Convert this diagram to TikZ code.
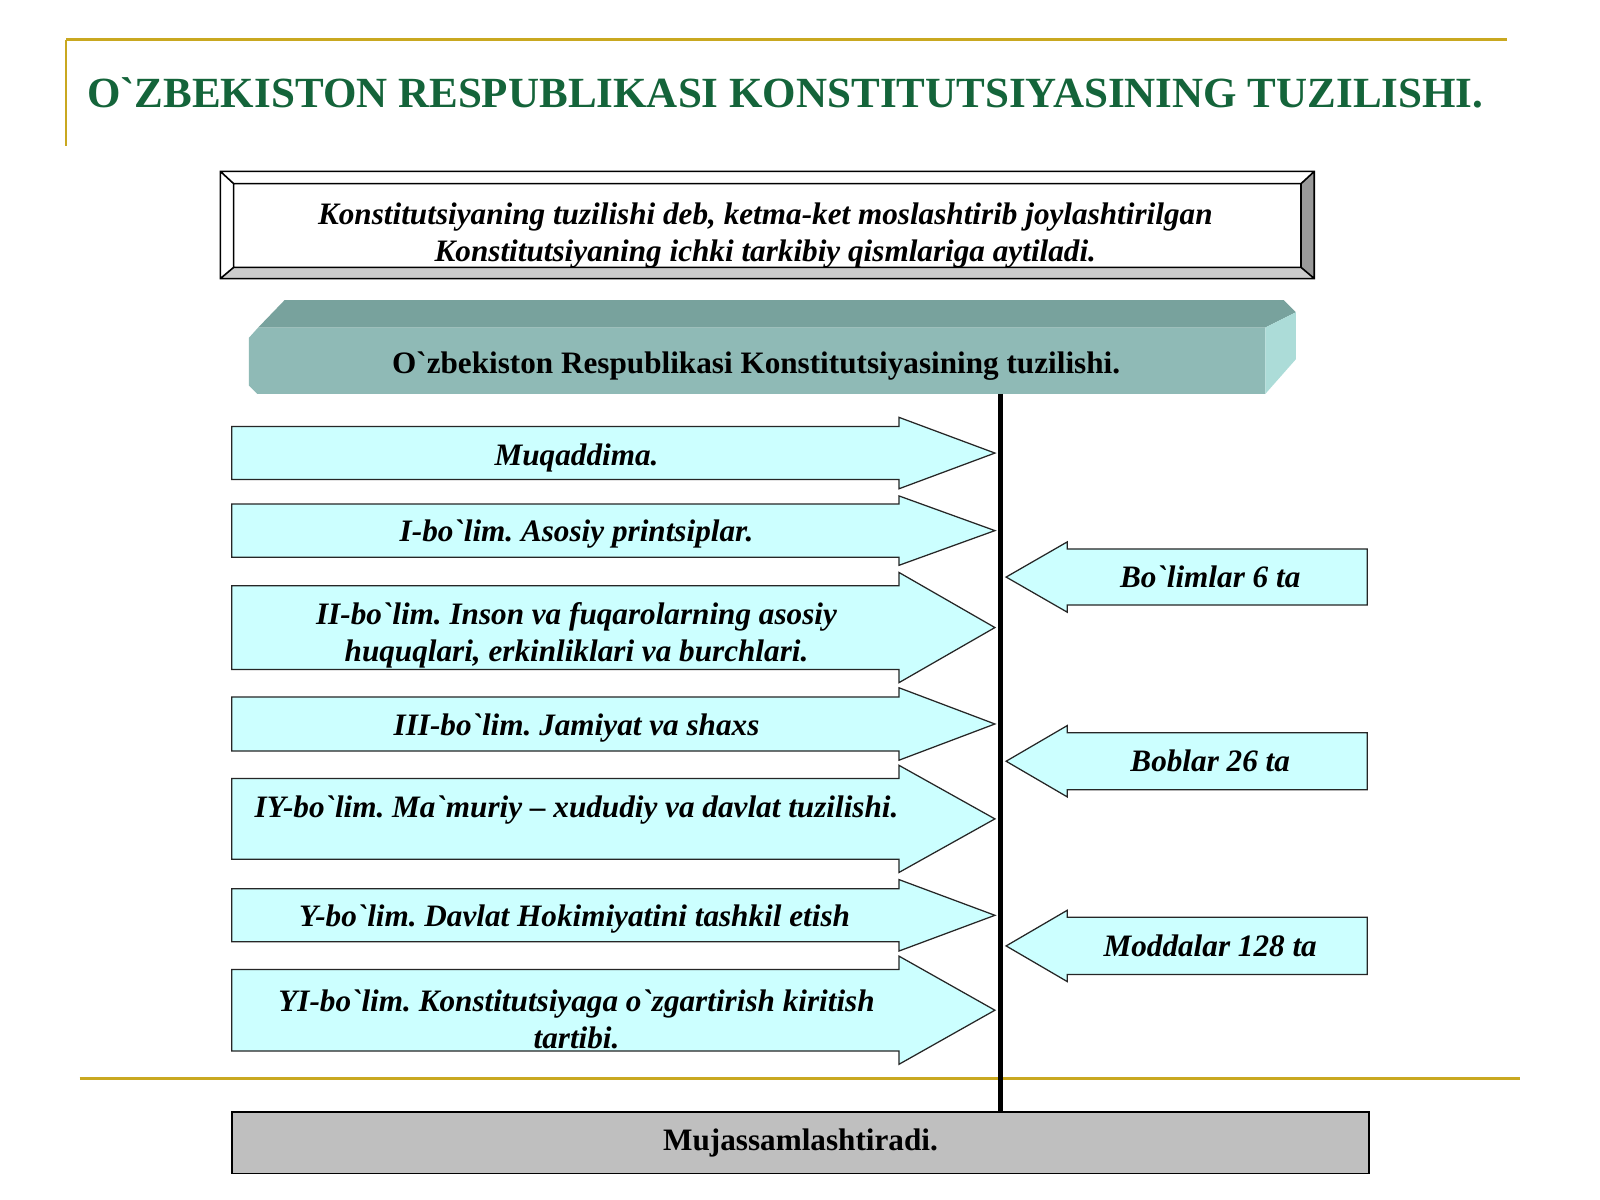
\documentclass[tikz,border=0pt]{standalone}
\usepackage{fontspec}
\setmainfont{Liberation Serif}
\definecolor{gold}{RGB}{201,168,32}
\definecolor{titlegreen}{RGB}{20,100,58}
\definecolor{paleblue}{RGB}{204,255,255}
\definecolor{tealfront}{RGB}{143,186,182}
\definecolor{tealtop}{RGB}{120,162,157}
\definecolor{tealside}{RGB}{172,220,216}
\newcommand{\bq}{\textasciigrave}
\newcommand{\lsect}[3]{\draw[sect] (227,#1) -- (881,#1) -- (881,#1-#3) -- (975,{(#1+#2)/2}) -- (881,#2+#3) -- (881,#2) -- (227,#2) -- cycle;}
\newcommand{\rcount}[2]{\draw[sect] (1340,#1) -- (1046,#1) -- (1046,#1-7) -- (986,{(#1+#2)/2}) -- (1046,#2+7) -- (1046,#2) -- (1340,#2) -- cycle;}
\frenchspacing

\begin{document}
\begin{tikzpicture}[x=0.02cm,y=-0.02cm,
    sect/.style={draw=black!85,fill=paleblue,line width=0.7pt},
    lab/.style={font=\fontsize{17.4}{20.6}\selectfont\bfseries\itshape,align=center,inner sep=0pt,yshift=-0.055cm},
    plain/.style={font=\fontsize{17.4}{20.6}\selectfont\bfseries,inner sep=0pt,yshift=-0.04cm},
    goldline/.style={draw=gold,line width=1.7pt}]
  \useasboundingbox[fill=white] (0,0) rectangle (1568,1176);

  \node[anchor=base west,text=titlegreen,font=\fontsize{24}{28}\selectfont\bfseries,inner sep=0pt] (title) at (85,105)
      {O\bq ZBEKISTON RESPUBLIKASI KONSTITUTSIYASINING TUZILISHI.};
  \draw[goldline] (65,39) -- (1477,39);
  \draw[draw=gold,line width=1pt] (65,39) -- (65,143);
  \draw[goldline] (78,1057) -- (1490,1057);

      \coordinate (A) at (216,168);
         \coordinate (B) at (1288,168);
           \coordinate (C) at (1288,273);
             \coordinate (D) at (216,273);
               \coordinate (A1) at (229,180);
                 \coordinate (B1) at (1275,180);
                   \coordinate (C1) at (1275,262);
                     \coordinate (D1) at (229,262);
  \fill[white] (A)--(B)--(C)--(D)--cycle;
  \fill[black!40] (B)--(C)--(C1)--(B1)--cycle;
  \fill[black!20] (D)--(C)--(C1)--(D1)--cycle;
  \draw[line width=0.9pt] (A)--(B)--(C)--(D)--cycle(A1)--(B1)--(C1)--(D1)--cycle
      (A)--(A1)(B)--(B1)(C)--(C1)(D)--(D1);
  \node[lab] (defn) at (750,228) {Konstitutsiyaning tuzilishi deb, ketma-ket moslashtirib joylashtirilgan\\
      Konstitutsiyaning ichki tarkibiy qismlariga aytiladi.};

  \fill[tealtop] (279,294) -- (1258,294) -- (1270,306) -- (1240,321) -- (253,321) -- cycle;
  \fill[tealfront] (253,321) -- (1240,321) -- (1240,386) -- (252,386) -- (244,378) -- (244,331) -- cycle;
  \fill[tealside] (1240,321) -- (1270,306) -- (1270,352) -- (1240,386) -- cycle;
  \node[plain] (struct) at (741,357) {O\bq zbekiston Respublikasi Konstitutsiyasining tuzilishi.};
  \coordinate (spine) at (980,386);

  \node[plain,yshift=0.04cm,draw=black,fill=black!25,line width=0.9pt,minimum width=22.3cm,minimum height=1.2cm] (muj) at (784.5,1120) {Mujassamlashtiradi.};
  \draw[line width=2.8pt] (spine) -- (spine |- muj.north);

  \lsect{418}{470}{9}
  \lsect{494}{546}{8}
  \lsect{574}{656}{13}
  \lsect{683}{736}{9}
  \lsect{763}{842}{13}
  \lsect{871}{923}{9}
  \lsect{950}{1030}{13}
  \node[lab] (muq) at (565,446) {Muqaddima.};
  \node[lab] (s1) at (565,521) {I-bo\bq lim. Asosiy printsiplar.};
  \node[lab] (s2) at (565,620) {II-bo\bq lim. Inson va fuqarolarning asosiy\\huquqlari, erkinliklari va burchlari.};
  \node[lab] (s3) at (565,711) {III-bo\bq lim. Jamiyat va shaxs};
  \node[lab] (s4) at (565,791) {IY-bo\bq lim. Ma\bq muriy – xududiy va davlat tuzilishi.};
  \node[lab] (s5) at (563,898) {Y-bo\bq lim. Davlat Hokimiyatini tashkil etish};
  \node[lab] (s6) at (565,996) {YI-bo\bq lim. Konstitutsiyaga o\bq zgartirish kiritish\\tartibi.};

  \rcount{538}{593}
  \rcount{718}{774}
  \rcount{899}{955}
  \node[lab] (nbol) at (1186,563) {Bo\bq limlar 6 ta};
  \node[lab] (nbob) at (1186,743) {Boblar 26 ta};
  \node[lab] (nmod) at (1186,924) {Moddalar 128 ta};
\end{tikzpicture}
\end{document}
